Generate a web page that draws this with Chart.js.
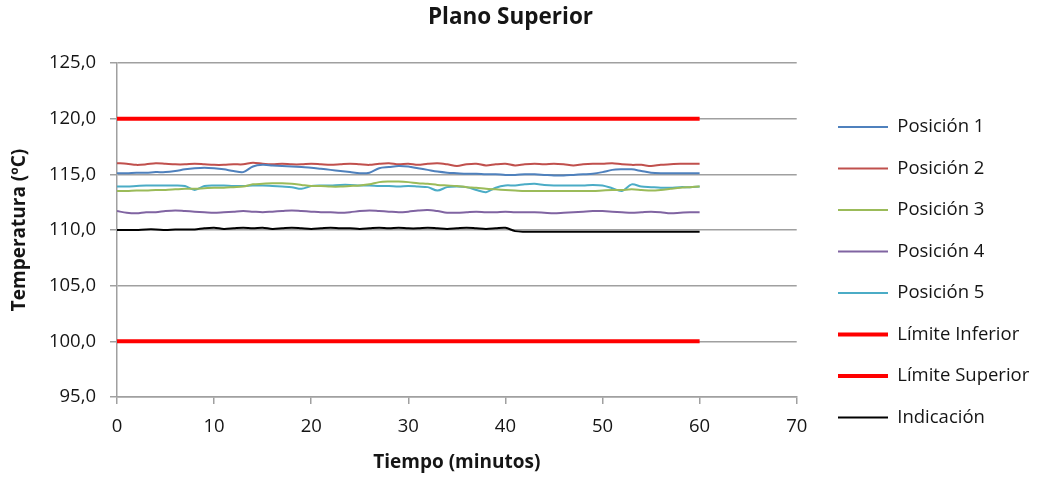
<!DOCTYPE html>
<html>
<head>
<meta charset="utf-8">
<script src="https://cdn.jsdelivr.net/npm/chart.js@4.4.0/dist/chart.umd.min.js"></script>
<style>
  html, body { margin: 0; padding: 0; background: #fff; }
  #wrap { width: 1048px; height: 479px; position: relative; }
</style>
</head>
<body>
<div id="wrap"><canvas id="c"></canvas></div>
<script>
const minutes = [0,1,2,3,4,5,6,7,8,9,10,11,12,13,14,15,16,17,18,19,20,21,22,23,24,25,26,27,28,29,30,31,32,33,34,35,36,37,38,39,40,41,42,43,44,45,46,47,48,49,50,51,52,53,54,55,56,57,58,59,60];

const posicion1 = [115.1,115.1,115.15,115.15,115.2,115.2,115.3,115.45,115.55,115.6,
  115.55,115.45,115.3,115.2,115.7,115.85,115.8,115.75,115.7,115.65,
  115.6,115.5,115.4,115.3,115.2,115.1,115.15,115.55,115.65,115.75,
  115.7,115.55,115.4,115.25,115.15,115.1,115.05,115.05,115.0,115.0,
  114.95,114.95,115.0,115.0,114.95,114.9,114.9,114.95,115.0,115.05,
  115.2,115.4,115.45,115.45,115.3,115.15,115.1,115.1,115.1,115.1,115.1];

const posicion2 = [116.0,115.95,115.85,115.9,116.0,115.95,115.9,115.9,115.95,115.9,
  115.85,115.85,115.9,115.9,116.05,115.95,115.9,115.95,115.9,115.9,
  115.95,115.9,115.85,115.9,115.95,115.9,115.85,115.95,116.0,115.9,
  115.95,115.85,115.95,116.0,115.9,115.75,115.9,115.95,115.8,115.9,
  115.95,115.8,115.9,115.95,115.9,115.95,115.9,115.8,115.9,115.95,
  115.95,116.0,115.9,115.85,115.85,115.75,115.85,115.9,115.95,115.95,115.95];

const posicion3 = [113.5,113.5,113.55,113.55,113.6,113.6,113.65,113.7,113.7,113.75,
  113.8,113.8,113.85,113.9,114.1,114.15,114.2,114.2,114.15,114.05,
  113.95,113.95,113.9,113.9,113.95,114.0,114.1,114.3,114.35,114.35,
  114.3,114.2,114.15,114.05,114.0,113.95,113.85,113.8,113.7,113.65,
  113.6,113.55,113.5,113.5,113.5,113.5,113.5,113.5,113.5,113.5,
  113.55,113.6,113.6,113.65,113.6,113.55,113.6,113.7,113.8,113.85,113.9];

const posicion4 = [111.7,111.55,111.5,111.6,111.6,111.7,111.75,111.7,111.65,111.6,
  111.55,111.6,111.65,111.7,111.65,111.6,111.65,111.7,111.75,111.7,
  111.65,111.6,111.6,111.55,111.6,111.7,111.75,111.7,111.65,111.6,
  111.65,111.75,111.8,111.7,111.55,111.55,111.6,111.65,111.6,111.6,
  111.65,111.6,111.6,111.6,111.55,111.5,111.55,111.6,111.65,111.7,
  111.7,111.65,111.6,111.55,111.6,111.65,111.6,111.5,111.55,111.6,111.6];

const posicion5 = [113.9,113.9,113.95,114.0,114.0,114.0,114.0,113.95,113.6,113.95,
  114.0,114.0,113.95,113.95,114.0,114.0,113.95,113.9,113.85,113.7,
  113.95,114.0,114.0,114.05,114.05,114.0,114.0,113.95,113.95,113.9,
  113.95,113.9,113.85,113.55,113.85,113.9,113.85,113.6,113.4,113.8,
  114.0,114.0,114.1,114.15,114.05,114.0,114.0,114.0,114.0,114.05,
  114.0,113.75,113.5,114.1,113.9,113.85,113.8,113.8,113.85,113.85,113.9];

const indicacion = [110.0,110.0,110.0,110.05,110.05,110.0,110.05,110.05,110.05,110.15,
  110.2,110.1,110.15,110.2,110.15,110.2,110.1,110.15,110.2,110.15,
  110.1,110.15,110.2,110.15,110.15,110.1,110.15,110.2,110.15,110.2,
  110.15,110.15,110.2,110.15,110.1,110.15,110.2,110.15,110.1,110.15,
  110.2,109.9,109.85,109.85,109.85,109.85,109.85,109.85,109.85,109.85,
  109.85,109.85,109.85,109.85,109.85,109.85,109.85,109.85,109.85,109.85,109.85];

const limitMinutes = [0, 60];
const limiteInferior = [100, 100];
const limiteSuperior = [120, 120];

const yTicks = [95, 100, 105, 110, 115, 120, 125];
const xTicks = [0, 10, 20, 30, 40, 50, 60, 70];

function pts(xs, ys) { return xs.map((x, i) => ({ x: x, y: ys[i] })); }

const FONT = "'Open Sans', 'Liberation Sans', sans-serif";
const GRID = '#a0a0a0';
const TEXT = '#151515';

function line(label, xs, ys, color, width) {
  return {
    label: label,
    data: pts(xs, ys),
    borderColor: color,
    backgroundColor: color,
    borderWidth: width,
    pointRadius: 0,
    pointHoverRadius: 0,
    tension: 0.3,
    fill: false
  };
}

const legendShift = {
  id: 'legendShift',
  afterLayout(chart) {
    const dx = 838 - 23 - chart.chartArea.right;
    if (chart.legend) { chart.legend.left += dx; chart.legend.right += dx; }
  }
};

new Chart(document.getElementById('c'), {
  type: 'line',
  data: {
    datasets: [
      line('Posición 1', minutes, posicion1, '#4F81BD', 2),
      line('Posición 2', minutes, posicion2, '#C0504D', 2),
      line('Posición 3', minutes, posicion3, '#9BBB59', 2),
      line('Posición 4', minutes, posicion4, '#8064A2', 2),
      line('Posición 5', minutes, posicion5, '#4BACC6', 2),
      line('Límite Inferior', limitMinutes, limiteInferior, '#FF0000', 4),
      line('Límite Superior', limitMinutes, limiteSuperior, '#FF0000', 4),
      line('Indicación', minutes, indicacion, '#000000', 2)
    ]
  },
  plugins: [legendShift],
  options: {
    responsive: true,
    maintainAspectRatio: false,
    animation: false,
    layout: { padding: { left: 0, right: 27, top: 0, bottom: 0 } },
    plugins: {
      title: {
        display: true,
        text: 'Plano Superior',
        color: TEXT,
        font: { family: FONT, size: 22.5, weight: 'bold', lineHeight: 1.2 },
        padding: { top: 4.5, bottom: 31.5 }
      },
      legend: {
        display: true,
        position: 'right',
        align: 'center',
        title: { display: true, text: ' ', font: { size: 10, lineHeight: 1.2 }, padding: 26.75 },
        labels: {
          usePointStyle: true,
          pointStyle: 'line',
          pointStyleWidth: 50,
          boxWidth: 50,
          padding: 23,
          color: TEXT,
          font: { family: FONT, size: 18.5 }
        }
      },
      tooltip: { enabled: false }
    },
    scales: {
      x: {
        type: 'linear',
        min: 0,
        max: 70,
        afterFit(s) { s.height = 82; },
        afterBuildTicks(s) { s.ticks = xTicks.map(v => ({ value: v })); },
        ticks: { color: TEXT, padding: 12, font: { family: FONT, size: 18.5 } },
        grid: { drawOnChartArea: false, drawTicks: true, tickLength: 7, color: GRID, lineWidth: 1.5 },
        border: { display: true, color: GRID, width: 1.5 },
        title: {
          display: true,
          text: 'Tiempo (minutos)',
          color: TEXT,
          font: { family: FONT, size: 19, weight: 'bold', lineHeight: 1.2 },
          padding: { top: 0, bottom: 4.6 }
        }
      },
      y: {
        min: 95,
        max: 125,
        afterFit(s) { s.width = 117; },
        afterBuildTicks(s) { s.ticks = yTicks.map(v => ({ value: v })); },
        ticks: {
          color: TEXT,
          padding: 14,
          font: { family: FONT, size: 18.5 },
          callback: (v) => Number(v).toFixed(1).replace('.', ',')
        },
        grid: { drawOnChartArea: true, drawTicks: true, tickLength: 7, color: GRID, lineWidth: 1.5 },
        border: { display: true, color: GRID, width: 1.5 },
        title: {
          display: true,
          text: 'Temperatura (ºC)',
          color: TEXT,
          font: { family: FONT, size: 19, weight: 'bold', lineHeight: 1.2 },
          padding: { top: 8.6, bottom: 0 }
        }
      }
    }
  }
});
</script>
</body>
</html>
